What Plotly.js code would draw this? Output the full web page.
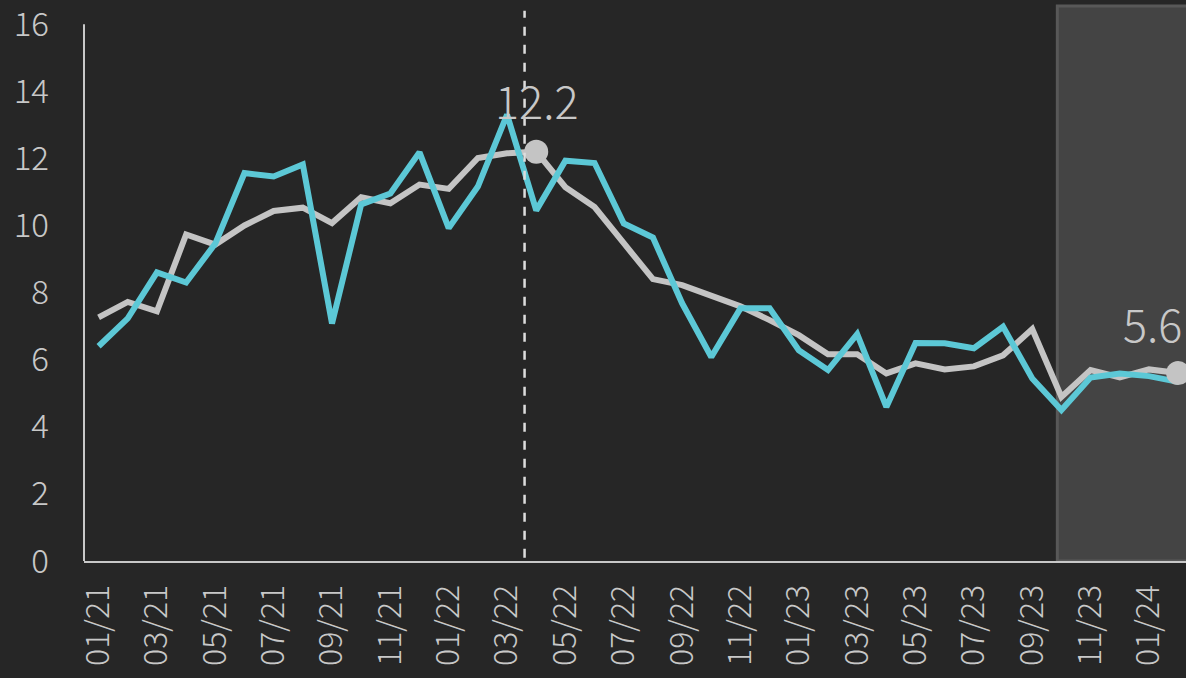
<!DOCTYPE html>
<html>
<head>
<meta charset="utf-8">
<script src="https://cdn.plot.ly/plotly-3.0.1.min.js"></script>
<style>html,body{margin:0;padding:0;background:#262626;}#chart{width:1186px;height:678px;}</style>
</head>
<body>
<div id="chart"></div>
<script>
const months = ['01/21','02/21','03/21','04/21','05/21','06/21','07/21','08/21','09/21','10/21','11/21','12/21',
  '01/22','02/22','03/22','04/22','05/22','06/22','07/22','08/22','09/22','10/22','11/22','12/22',
  '01/23','02/23','03/23','04/23','05/23','06/23','07/23','08/23','09/23','10/23','11/23','12/23',
  '01/24','02/24'];
const greySeries = [7.26,7.72,7.44,9.73,9.43,10.0,10.43,10.53,10.07,10.84,10.66,11.22,11.09,12.01,12.15,12.2,11.14,10.55,9.47,8.40,8.22,7.92,7.59,7.18,6.73,6.16,6.16,5.59,5.89,5.71,5.80,6.13,6.91,4.89,5.69,5.47,5.71,5.6];
const cyanSeries = [6.40,7.23,8.60,8.30,9.46,11.56,11.46,11.82,7.08,10.63,10.95,12.18,9.92,11.16,13.30,10.45,11.93,11.86,10.06,9.64,7.68,6.08,7.53,7.53,6.28,5.69,6.76,4.59,6.50,6.49,6.34,6.98,5.44,4.50,5.47,5.59,5.51,5.34];
const tickLabels = ['01/21','03/21','05/21','07/21','09/21','11/21','01/22','03/22','05/22','07/22','09/22','11/22',
  '01/23','03/23','05/23','07/23','09/23','11/23','01/24'];
const highlightX = ['04/22','02/24'];
const highlightY = [12.2, 5.6];
const highlightText = ['12.2','5.6'];

const txt = '#c8c8c8';
const fontFam = '"Noto Sans CJK JP", "Noto Sans", sans-serif';

const traces = [
  {x: months, y: greySeries, type:'scatter', mode:'lines', line:{color:'#c4c4c4', width:6}, hoverinfo:'skip'},
  {x: months, y: cyanSeries, type:'scatter', mode:'lines', line:{color:'#5cc8d6', width:6}, hoverinfo:'skip'},
  {x: highlightX, y: highlightY, type:'scatter', mode:'markers', marker:{color:'#c4c4c4', size:24}, cliponaxis:false, hoverinfo:'skip'}
];

const layout = {
  width:1186, height:678,
  margin:{l:84, r:0, t:4, b:117},
  paper_bgcolor:'#262626', plot_bgcolor:'#262626',
  showlegend:false,
  font:{family:fontFam, color:txt, size:33, weight:300},
  xaxis:{type:'category', range:[-0.5, 37.27], showgrid:false, zeroline:false, showline:true,
    linecolor:'#c8c8c8', linewidth:2, ticks:'', tickmode:'array', tickvals:tickLabels, ticktext:tickLabels,
    tickangle:-90, tickfont:{size:32, color:txt, weight:300}, ticklabelstandoff:9, ticklabeloverflow:'allow'},
  yaxis:{range:[0, 16.6], showgrid:false, zeroline:false, showline:false, ticks:'',
    tickvals:[0,2,4,6,8,10,12,14,16], tickfont:{size:33, color:txt, weight:300}, ticklabelstandoff:34,
    ticklabeloverflow:'allow'},
  shapes:[
    {type:'rect', layer:'below', xref:'x', yref:'y', x0:32.86, x1:38, y0:0, y1:16.54,
      fillcolor:'#444444', line:{color:'#585858', width:3}},
    {type:'line', layer:'above', xref:'paper', yref:'y', x0:0, x1:0, y0:0, y1:16,
      line:{color:'#c8c8c8', width:2}},
    {type:'line', layer:'above', xref:'x', yref:'y', x0:14.6, x1:14.6, y0:0.1, y1:16.4,
      line:{color:'#dddddd', width:2.5, dash:'dash'}}
  ],
  annotations:[
    {x: highlightX[0], y: highlightY[0], text: highlightText[0], showarrow:false, yshift:52,
      font:{size:45, color:txt, weight:300}, xanchor:'center', yanchor:'middle'},
    {x: highlightX[1], y: highlightY[1], text: highlightText[1], showarrow:false, yshift:51, xshift:6,
      font:{size:45, color:txt, weight:300}, xanchor:'right', yanchor:'middle'}
  ]
};

Plotly.newPlot('chart', traces, layout, {displayModeBar:false, staticPlot:true});
</script>
</body>
</html>
